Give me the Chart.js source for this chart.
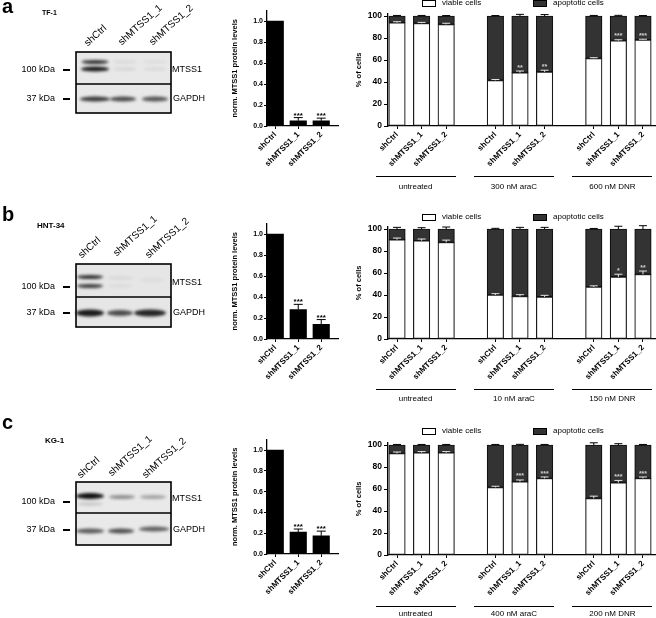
<!DOCTYPE html>
<html>
<head>
<meta charset="utf-8">
<script src="https://cdn.jsdelivr.net/npm/chart.js@4.4.1/dist/chart.umd.min.js"></script>
<style>
  body { margin: 0; width: 656px; height: 618px; overflow: hidden; position: relative; background: #fff;
         font-family: "Liberation Sans", Arial, sans-serif; color: #000; }
  .t { position: absolute; white-space: nowrap; line-height: 1; color: #000; }
  .gl { filter: grayscale(1); background: #fff; }
  .cv { position: absolute; }
  .lane { position: absolute; white-space: nowrap; line-height: 1; font-size: 10px; transform-origin: 0 100%; transform: rotate(-42deg); }
  .dash { position: absolute; width: 7px; height: 2px; background: #000; }
  .grp { position: absolute; height: 0; border-top: 1.3px solid #000; }
  .box { position: absolute; width: 12px; height: 5px; border: 1.2px solid #000; }
</style>
</head>
<body>
<canvas id="blots" class="cv" width="220" height="618" style="left:0;top:0"></canvas>
<canvas id="protA" class="cv" width="120" height="180" style="left:220px;top:0"></canvas>
<canvas id="protB" class="cv" width="120" height="190" style="left:220px;top:200px"></canvas>
<canvas id="protC" class="cv" width="120" height="208" style="left:220px;top:410px"></canvas>
<canvas id="cellsA" class="cv" width="316" height="176" style="left:340px;top:0"></canvas>
<canvas id="cellsB" class="cv" width="316" height="190" style="left:340px;top:200px"></canvas>
<canvas id="cellsC" class="cv" width="316" height="196" style="left:340px;top:410px"></canvas>
<script>
"use strict";
const laneLabels = ["shCtrl", "shMTSS1_1", "shMTSS1_2"];
const proteinTicks = [0, 0.2, 0.4, 0.6, 0.8, 1.0];
const cellTicks = [0, 20, 40, 60, 80, 100];
const proteinStars = ["", "***", "***"];

// TF-1
const tf1Protein = [1.0, 0.05, 0.05];
const tf1ProteinErr = [0, 0.03, 0.025];
const tf1Treatments = ["untreated", "300 nM araC", "600 nM DNR"];
const tf1Viable = [94.0, 93.4, 92.4, 41.5, 48.5, 49.2, 61.5, 77.6, 78.3];
const tf1ViableErr = [0.8, 0.8, 1.0, 0.8, 1.5, 1.5, 0.6, 0.8, 0.6];
const tf1Apoptotic = [6.0, 6.6, 7.6, 58.5, 51.5, 50.8, 38.5, 22.4, 21.7];
const tf1ApoptoticErr = [0.5, 0.5, 0.4, 0.4, 1.5, 1.3, 0.5, 0.6, 0.4];
const tf1Stars = ["", "", "", "", "**", "**", "", "***", "***"];

// HNT-34
const hnt34Protein = [1.0, 0.28, 0.14];
const hnt34ProteinErr = [0, 0.05, 0.045];
const hnt34Treatments = ["untreated", "10 nM araC", "150 nM DNR"];
const hnt34Viable = [90.3, 89.4, 87.9, 40.0, 38.8, 38.2, 47.3, 56.4, 58.8];
const hnt34ViableErr = [1.5, 1.5, 2.0, 1.2, 1.5, 1.5, 1.0, 2.5, 3.0];
const hnt34Apoptotic = [9.7, 10.6, 12.1, 60.0, 61.2, 61.8, 52.7, 43.6, 41.2];
const hnt34ApoptoticErr = [1.5, 1.2, 1.8, 0.6, 1.5, 1.5, 0.5, 2.5, 3.0];
const hnt34Stars = ["", "", "", "", "", "", "", "*", "**"];

// KG-1
const kg1Protein = [1.0, 0.21, 0.175];
const kg1ProteinErr = [0, 0.03, 0.045];
const kg1Treatments = ["untreated", "400 nM araC", "200 nM DNR"];
const kg1Viable = [92.4, 93.0, 93.0, 61.5, 66.7, 69.7, 51.5, 65.8, 69.7];
const kg1ViableErr = [1.2, 1.0, 1.0, 1.0, 1.5, 1.2, 2.0, 2.0, 1.2];
const kg1Apoptotic = [7.6, 7.0, 7.0, 38.5, 33.3, 30.3, 48.5, 34.2, 30.3];
const kg1ApoptoticErr = [0.5, 0.5, 0.5, 0.5, 0.6, 0.5, 2.0, 1.2, 0.5];
const kg1Stars = ["", "", "", "", "***", "***", "", "***", "***"];

const FONT = '"Liberation Sans", Arial, sans-serif';

function bold(size) {
  return { family: FONT, size: size, weight: "bold" };
}

// slot on the x axis: one empty slot between treatment groups
function slotOf(i) {
  return i + Math.floor(i / 3);
}

const errorBarPlugin = {
  id: "errorBars",
  afterDatasetsDraw(chart) {
    const ctx = chart.ctx;
    const yScale = chart.scales.y;
    ctx.save();
    chart.data.datasets.forEach((ds, di) => {
      const meta = chart.getDatasetMeta(di);
      meta.data.forEach((bar, i) => {
        const top = bar.y;
        let tip = top;
        const err = ds.errors ? ds.errors[i] : 0;
        if (err) {
          const val = yScale.getValueForPixel(top);
          tip = yScale.getPixelForValue(val + err);
          ctx.strokeStyle = ds.errorColor;
          ctx.lineWidth = 1;
          ctx.beginPath();
          ctx.moveTo(bar.x, top);
          ctx.lineTo(bar.x, tip);
          ctx.moveTo(bar.x - ds.capWidth, tip);
          ctx.lineTo(bar.x + ds.capWidth, tip);
          ctx.stroke();
        }
        if (ds.stars && ds.stars[i]) {
          ctx.fillStyle = ds.starColor;
          ctx.font = "bold " + ds.starSize + "px " + FONT;
          ctx.textAlign = "center";
          ctx.textBaseline = "alphabetic";
          ctx.fillText(ds.stars[i], bar.x, tip - ds.starGap);
        }
      });
    });
    ctx.restore();
  },
};

function axisGrid(len) {
  return { display: true, offset: false, drawOnChartArea: false, drawTicks: true, tickLength: len, color: "#000", tickWidth: 1 };
}
const axisBorder = { display: true, color: "#000", width: 1.3 };

function proteinChart(id, values, errors, padTop, xHeight) {
  return new Chart(document.getElementById(id), {
    type: "bar",
    data: {
      datasets: [
        {
          data: values.map((v, i) => ({ x: i, y: v })),
          backgroundColor: "#000",
          borderWidth: 0,
          barThickness: 16.5,
          errors: errors,
          errorColor: "#000",
          capWidth: 4.5,
          stars: proteinStars,
          starColor: "#000",
          starSize: 8,
          starGap: 0,
        },
      ],
    },
    options: {
      responsive: false,
      animation: false,
      layout: { padding: { left: 6.5, top: padTop, right: 2, bottom: 0 } },
      plugins: { legend: { display: false }, tooltip: { enabled: false } },
      scales: {
        x: {
          type: "linear",
          offset: false,
          bounds: "data",
          min: -0.36,
          max: 2.73,
          afterBuildTicks: (s) => { s.ticks = laneLabels.map((_, i) => ({ value: i })); },
          afterFit: (s) => { s.height = xHeight; },
          ticks: {
            autoSkip: false, minRotation: 45, maxRotation: 45, padding: 1,
            font: bold(8), color: "#000",
            callback: (v, i) => laneLabels[i],
          },
          grid: axisGrid(3),
          border: axisBorder,
        },
        y: {
          min: 0,
          max: 1.1,
          bounds: "data",
          afterBuildTicks: (s) => { s.ticks = proteinTicks.map((v) => ({ value: v })); },
          afterFit: (s) => { s.width = 40.5; },
          ticks: { font: bold(7), color: "#000", padding: 1, callback: (v) => v.toFixed(1) },
          title: { display: true, text: "norm. MTSS1 protein levels", font: bold(7.5), color: "#000", padding: { top: 4, bottom: 0 } },
          grid: axisGrid(3),
          border: axisBorder,
        },
      },
    },
    plugins: [errorBarPlugin],
  });
}

function cellChart(id, viable, viableErr, apoptotic, apoptoticErr, stars, padTop, xHeight) {
  return new Chart(document.getElementById(id), {
    type: "bar",
    data: {
      datasets: [
        {
          label: "viable cells",
          data: viable.map((v, i) => ({ x: slotOf(i), y: v })),
          backgroundColor: "#fff",
          borderColor: "#1a1a1a",
          borderWidth: 1.2,
          borderSkipped: false,
          barThickness: 16.5,
          errors: viableErr,
          errorColor: "#e6e6e6",
          capWidth: 4,
          stars: stars,
          starColor: "#cfcfcf",
          starSize: 7,
          starGap: 1.5,
        },
        {
          label: "apoptotic cells",
          data: apoptotic.map((v, i) => ({ x: slotOf(i), y: v })),
          backgroundColor: "#333",
          borderColor: "#111",
          borderWidth: 1.2,
          borderSkipped: false,
          barThickness: 16.5,
          errors: apoptoticErr,
          errorColor: "#000",
          capWidth: 4,
        },
      ],
    },
    options: {
      responsive: false,
      animation: false,
      layout: { padding: { left: 10, top: padTop, right: 0, bottom: 0 } },
      plugins: { legend: { display: false }, tooltip: { enabled: false } },
      scales: {
        x: {
          type: "linear",
          offset: false,
          stacked: true,
          bounds: "data",
          min: -0.366,
          max: 10.53,
          afterBuildTicks: (s) => { s.ticks = viable.map((_, i) => ({ value: slotOf(i) })); },
          afterFit: (s) => { s.height = xHeight; },
          ticks: {
            autoSkip: false, minRotation: 45, maxRotation: 45, padding: 1,
            font: bold(8), color: "#000",
            callback: (v, i) => laneLabels[i % 3],
          },
          grid: axisGrid(3),
          border: axisBorder,
        },
        y: {
          stacked: true,
          min: 0,
          max: 102,
          bounds: "data",
          afterBuildTicks: (s) => { s.ticks = cellTicks.map((v) => ({ value: v })); },
          afterFit: (s) => { s.width = 38; },
          ticks: { font: bold(8.5), color: "#000", padding: 2 },
          title: { display: true, text: "% of cells", font: bold(7.5), color: "#000", padding: { top: 4, bottom: 0 } },
          grid: axisGrid(4),
          border: axisBorder,
        },
      },
    },
    plugins: [errorBarPlugin],
  });
}

function addText(text, left, top, size, weight, extra) {
  const el = document.createElement("div");
  el.className = "t";
  el.textContent = text;
  el.style.left = left + "px";
  el.style.top = top + "px";
  el.style.fontSize = size + "px";
  el.style.fontWeight = weight || "normal";
  if (extra) Object.assign(el.style, extra);
  document.body.appendChild(el);
  return el;
}

function addGroupLabels(chart, canvasLeft, treatments, lineY, textY) {
  const xs = chart.scales.x;
  treatments.forEach((name, g) => {
    const cx = canvasLeft + xs.getPixelForValue(slotOf(g * 3 + 1)) - 6;
    const line = document.createElement("div");
    line.className = "grp";
    line.style.left = (cx - 40) + "px";
    line.style.width = "80px";
    line.style.top = lineY + "px";
    document.body.appendChild(line);
    const label = addText(name, cx - 40, textY, 8, "normal", { width: "80px", textAlign: "center" });
    label.classList.add("gl");
  });
}

function addLegend(y) {
  const b1 = document.createElement("div");
  b1.className = "box";
  b1.style.left = "422px";
  b1.style.top = (y - 3) + "px";
  b1.style.background = "#fff";
  document.body.appendChild(b1);
  addText("viable cells", 442, y - 4, 8);
  const b2 = document.createElement("div");
  b2.className = "box";
  b2.style.left = "533px";
  b2.style.top = (y - 3) + "px";
  b2.style.background = "#333";
  document.body.appendChild(b2);
  addText("apoptotic cells", 553, y - 4, 8);
}

// western blot panels (image, not data)
const blotPanels = [
  {
    letter: "a", letterTop: -4, line: "TF-1", lineX: 42, lineY: 9, lineSize: 7,
    top: 52, mid: 84, bottom: 113, bg: "#e8e8e8",
    lanes: [[89, 48], [123, 47], [154, 47]],
    kda100: 70, kda37: 99, mtssY: 70, gapdhY: 99,
    bands: [
      [95, 62, 27, 4, 0.85], [95, 69, 28, 5, 0.95],
      [125, 62, 24, 3, 0.08], [125, 69, 24, 3, 0.1],
      [155, 62, 24, 3, 0.06], [155, 69, 24, 3, 0.08],
      [95, 99, 30, 5, 0.8], [123, 99, 26, 5, 0.72], [155, 99, 26, 5, 0.68],
    ],
  },
  {
    letter: "b", letterTop: 204, line: "HNT-34", lineX: 37, lineY: 222, lineSize: 8,
    top: 264, mid: 297, bottom: 327, bg: "#e6e6e6",
    lanes: [[83, 260], [118, 258], [150, 260]],
    kda100: 287, kda37: 313, mtssY: 283, gapdhY: 313,
    bands: [
      [90, 277, 26, 4, 0.85], [90, 286, 26, 4, 0.8],
      [120, 278, 26, 3, 0.08], [120, 286, 26, 3, 0.06],
      [152, 280, 26, 3, 0.05],
      [90, 313, 28, 7, 0.95], [120, 313, 26, 6, 0.72], [150, 313, 32, 7, 0.9],
    ],
  },
  {
    letter: "c", letterTop: 412, line: "KG-1", lineX: 45, lineY: 437, lineSize: 8,
    top: 482, mid: 513, bottom: 545, bg: "#e9e9e9",
    lanes: [[82, 480], [113, 478], [147, 480]],
    kda100: 502, kda37: 530, mtssY: 499, gapdhY: 530,
    bands: [
      [90, 496, 28, 6, 1.0], [90, 504, 26, 3, 0.18],
      [122, 497, 26, 4, 0.42], [153, 497, 26, 4, 0.32],
      [90, 531, 28, 5, 0.65], [121, 531, 26, 5, 0.7], [154, 529, 30, 5, 0.62],
    ],
  },
];

function drawBlots() {
  const ctx = document.getElementById("blots").getContext("2d");
  blotPanels.forEach((p) => {
    ctx.fillStyle = p.bg;
    ctx.fillRect(76, p.top, 95, p.bottom - p.top);
    p.bands.forEach(([x, y, w, h, a]) => {
      ctx.save();
      ctx.filter = "blur(1.6px)";
      ctx.fillStyle = "rgba(15,15,15," + a + ")";
      ctx.beginPath();
      ctx.ellipse(x, y, w / 2, h / 2, 0, 0, Math.PI * 2);
      ctx.fill();
      ctx.restore();
    });
    ctx.strokeStyle = "#000";
    ctx.lineWidth = 1.6;
    ctx.strokeRect(76, p.top, 95, p.bottom - p.top);
    ctx.beginPath();
    ctx.moveTo(76, p.mid);
    ctx.lineTo(171, p.mid);
    ctx.stroke();

    addText(p.letter, 2, p.letterTop, 20, "bold");
    addText(p.line, p.lineX, p.lineY, p.lineSize, "bold");
    laneLabels.forEach((name, i) => {
      const el = document.createElement("div");
      el.className = "lane";
      el.textContent = name;
      el.style.left = p.lanes[i][0] + "px";
      el.style.top = (p.lanes[i][1] - 10) + "px";
      document.body.appendChild(el);
    });
    addText("100 kDa", 0, p.kda100 - 5, 9, "normal", { width: "55px", textAlign: "right" });
    addText("37 kDa", 0, p.kda37 - 5, 9, "normal", { width: "55px", textAlign: "right" });
    [p.kda100, p.kda37].forEach((y) => {
      const d = document.createElement("div");
      d.className = "dash";
      d.style.left = "63px";
      d.style.top = (y - 1) + "px";
      document.body.appendChild(d);
    });
    addText("MTSS1", 172, p.mtssY - 5, 9);
    addText("GAPDH", 173, p.gapdhY - 5, 9);
  });
}

drawBlots();

proteinChart("protA", tf1Protein, tf1ProteinErr, 10.5, 54);
proteinChart("protB", hnt34Protein, hnt34ProteinErr, 23.5, 51);
proteinChart("protC", kg1Protein, kg1ProteinErr, 29.6, 64);

const cellsA = cellChart("cellsA", tf1Viable, tf1ViableErr, tf1Apoptotic, tf1ApoptoticErr, tf1Stars, 13.8, 50);
const cellsB = cellChart("cellsB", hnt34Viable, hnt34ViableErr, hnt34Apoptotic, hnt34ApoptoticErr, hnt34Stars, 26.8, 51);
const cellsC = cellChart("cellsC", kg1Viable, kg1ViableErr, kg1Apoptotic, kg1ApoptoticErr, kg1Stars, 32.8, 51);

addLegend(3);
addLegend(217);
addLegend(431);
addGroupLabels(cellsA, 340, tf1Treatments, 176, 183);
addGroupLabels(cellsB, 340, hnt34Treatments, 389, 395);
addGroupLabels(cellsC, 340, kg1Treatments, 606, 610);
</script>
</body>
</html>
